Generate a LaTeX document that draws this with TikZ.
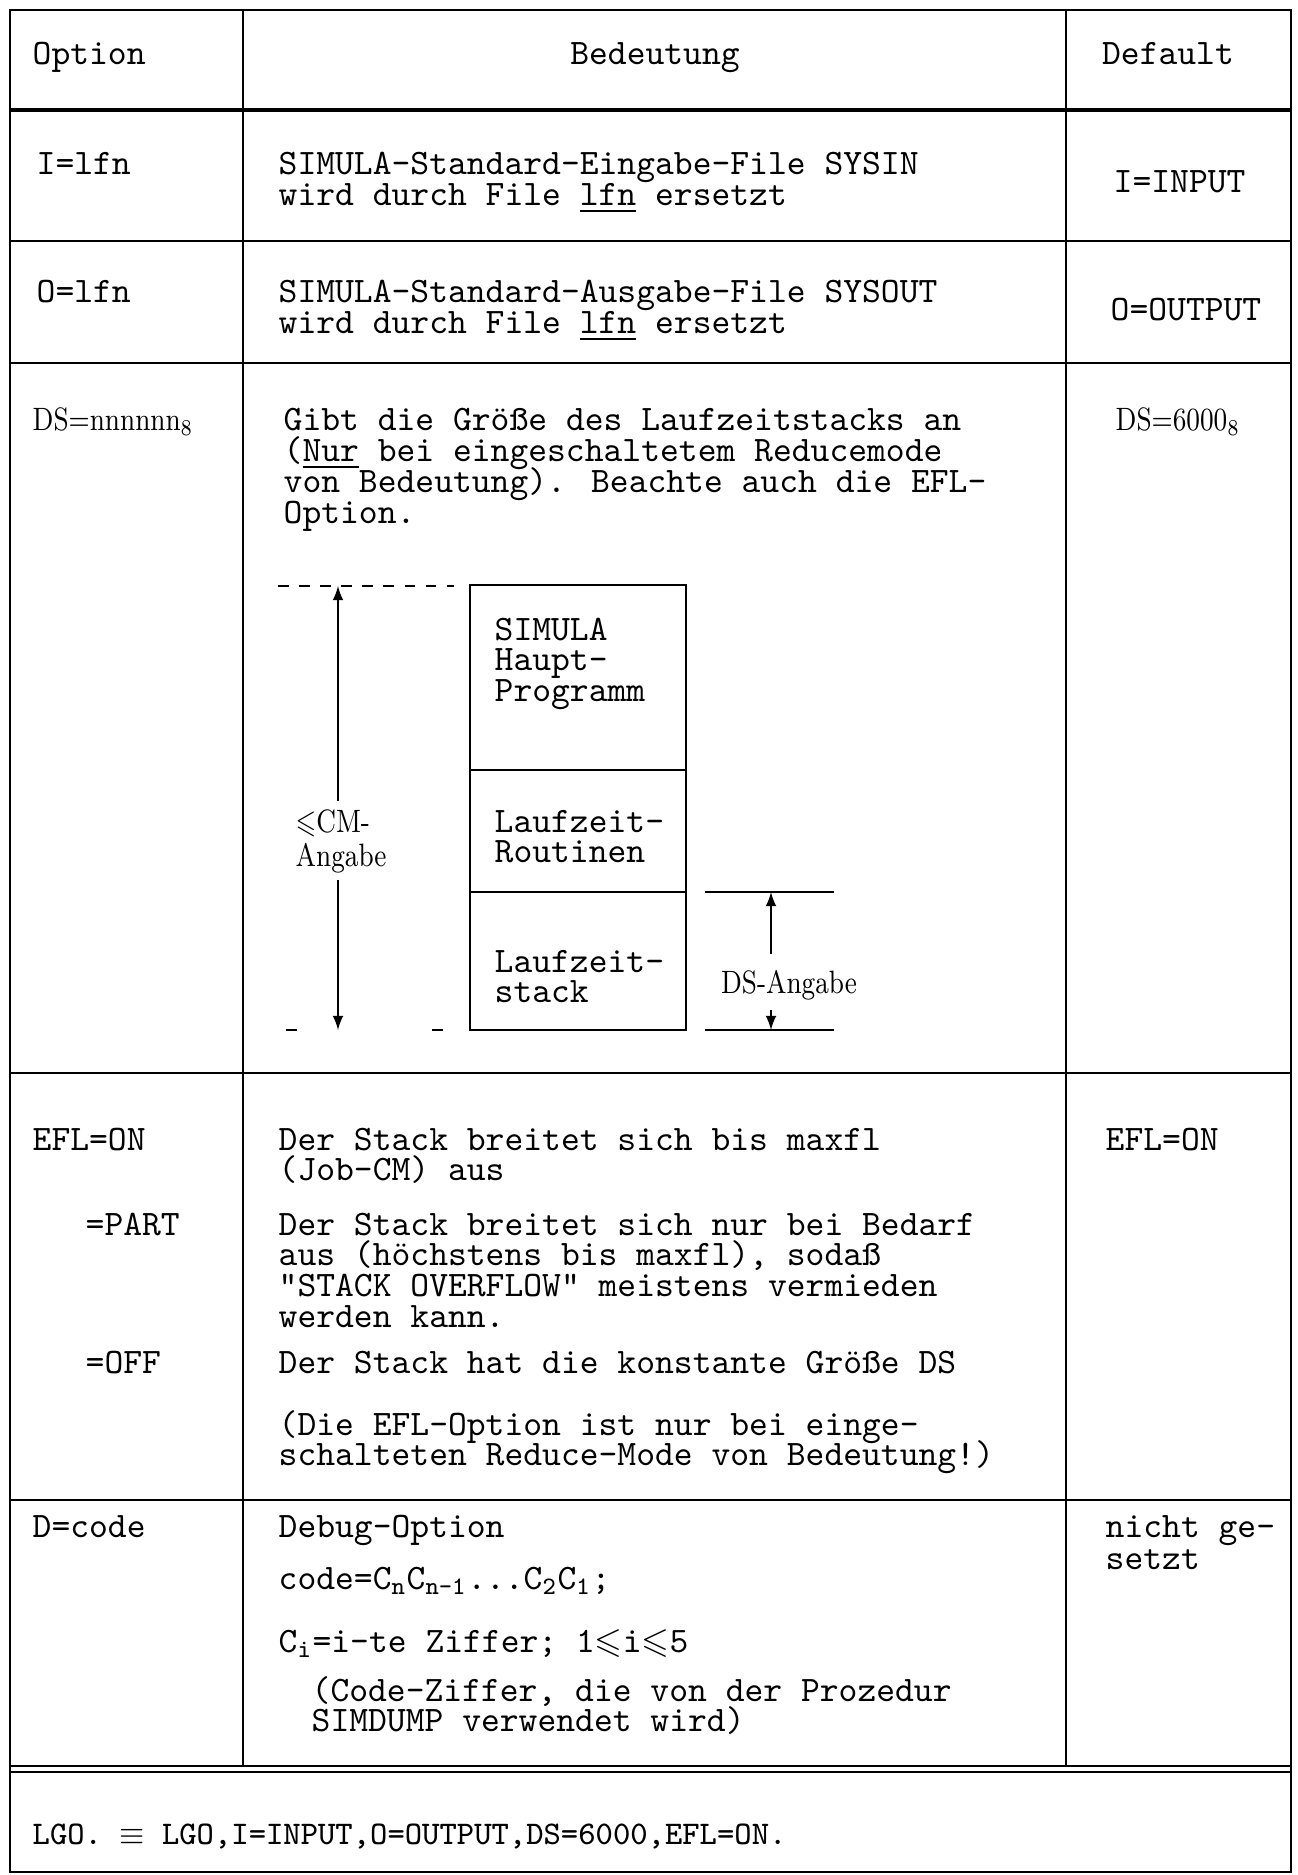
\documentclass[tikz,border=0pt]{standalone}
\usepackage{fontspec}
\usepackage{amssymb}
\newcommand{\cond}[1]{\scalebox{0.82}[1]{#1}}
% lines of one paragraph, base = baseline of the first line
\newcommand{\ml}[1]{\vtop{\hsize=110mm\parindent=0pt\lineskiplimit=-20pt\relax
  \let\\\newline\noindent#1}}
\begin{document}
\begin{tikzpicture}[x=0.1mm,y=-0.1mm,
    tt/.style={font=\ttfamily\fontsize{10.2}{8.8}\selectfont,
      anchor=base west,inner sep=0pt},
    ttwide/.style={tt,font=\ttfamily\fontsize{10.2}{9.3}\selectfont},
    ttsmall/.style={tt,font=\ttfamily\fontsize{9.4}{8.8}\selectfont},
    rmtxt/.style={font=\fontsize{9.2}{8.8}\selectfont,
      anchor=base west,inner sep=0pt},
    rule/.style={line width=0.6pt},
    guide/.style={line width=0.4pt,dashed}]
\useasboundingbox (0,0) rectangle (1297,1875);
% table frame
\draw[rule] (10,10) rectangle (1291,1872);
\draw[rule] (243,10) -- (243,1766);
\draw[rule] (1066,10) -- (1066,1766);
\draw[line width=1pt] (10,110) -- (1291,110);
\draw[rule] (10,241) -- (1291,241);
\draw[rule] (10,363) -- (1291,363);
\draw[rule] (10,1073) -- (1291,1073);
\draw[rule] (10,1500) -- (1291,1500);
\draw[rule] (10,1766) -- (1291,1766);
\draw[rule] (10,1772) -- (1291,1772);
% header
\node[tt] (hopt) at (32,65) {Option};
\node[tt,anchor=base] (hbed) at (655,65) {Bedeutung};
\node[tt,anchor=base] (hdef) at (1168,65) {Default};
% I=lfn
\node[tt] (iopt) at (36,175) {I=lfn};
\node[tt] (ibed) at (278,175) {\ml{SIMULA-Standard-Eingabe-File SYSIN\\wird durch File \underline{lfn} ersetzt}};
\node[tt] (idef) at (1113,193) {I=INPUT};
% O=lfn
\node[tt] (oopt) at (36,303) {O=lfn};
\node[tt] (obed) at (278,303) {\ml{SIMULA-Standard-Ausgabe-File SYSOUT\\wird durch File \underline{lfn} ersetzt}};
\node[tt] (odef) at (1110,321) {O=OUTPUT};
% DS
\node[rmtxt] (dsopt) at (32,431) {\cond{DS=nnnnnn\textsubscript{8}}};
\node[tt] (dsbed) at (283,431) {\ml{Gibt die Größe des Laufzeitstacks an\\(\underline{Nur} bei eingeschaltetem Reducemode\\von Bedeutung). Beachte auch die EFL-\\Option.}};
\node[rmtxt] (dsdef) at (1115,431) {\cond{DS=6000\textsubscript{8}}};
% storage picture
\draw[rule] (470,585) rectangle (686,1030);
\draw[rule] (470,770) -- (686,770);
\draw[rule] (470,892) -- (686,892);
\node[tt] (haupt) at (494,640) {\ml{SIMULA\\Haupt-\\Programm}};
\node[tt] (rout) at (494,832) {\ml{Laufzeit-\\Routinen}};
\node[tt] (stack) at (494,972) {\ml{Laufzeit-\\stack}};
\draw[guide] (278,586) -- (454,586);
\draw[guide] (286,1030) -- (305,1030);
\draw[guide] (432,1030) -- (443,1030);
\coordinate (cmtop) at (338,586);
\coordinate (cmbot) at (338,1030);
\node[rmtxt,inner ysep=2pt] (cmlbl) at (295,832) {\cond{$\leqslant$CM-}};
\node[rmtxt,inner ysep=2pt] (cmlbl2) at (295,866) {\cond{Angabe}};
\draw[-latex] (cmlbl.north -| cmtop) -- (cmtop);
\draw[-latex] (cmlbl2.south -| cmtop) -- (cmbot);
\draw[rule] (705,892) -- (834,892);
\draw[rule] (705,1030) -- (834,1030);
\coordinate (dstop) at (771,892);
\coordinate (dsbot) at (771,1030);
\node[rmtxt,anchor=base] (dslbl) at (789,993) {\cond{DS-Angabe}};
\draw[-latex,shorten <=1.5mm] (dslbl.north -| dstop) -- (dstop);
\draw[-latex,shorten <=1mm] (dslbl.south -| dsbot) -- (dsbot);
% EFL
\node[tt] (eflopt) at (32,1150) {EFL=ON};
\node[tt] (eflon) at (278,1150) {\ml{Der Stack breitet sich bis maxfl\\(Job-CM) aus}};
\node[tt] (eflpopt) at (85,1235) {=PART};
\node[tt] (eflpart) at (278,1235) {\ml{Der Stack breitet sich nur bei Bedarf\\aus (höchstens bis maxfl), sodaß\\"STACK OVERFLOW" meistens vermieden\\werden kann.}};
\node[tt] (efloopt) at (85,1373) {=OFF};
\node[tt] (efloff) at (278,1373) {Der Stack hat die konstante Größe DS};
\node[tt] (eflnote) at (278,1435) {\ml{(Die EFL-Option ist nur bei einge-\\schalteten Reduce-Mode von Bedeutung!)}};
\node[tt] (efldef) at (1105,1150) {EFL=ON};
% D=code
\node[tt] (dopt) at (32,1537) {D=code};
\node[tt] (dbed) at (278,1537) {Debug-Option};
\node[tt] (dcode) at (278,1589) {code=C\textsubscript{n}C\textsubscript{n-1}...C\textsubscript{2}C\textsubscript{1};};
\node[tt] (dci) at (278,1652) {C\textsubscript{i}=i-te Ziffer; 1$\leqslant$i$\leqslant$5};
\node[tt] (dnote) at (311,1701) {\ml{(Code-Ziffer, die von der Prozedur\\SIMDUMP verwendet wird)}};
\node[ttwide] (ddef) at (1105,1537) {\ml{nicht ge-\\setzt}};
% LGO
\node[ttsmall] (lgo) at (32,1844) {LGO. $\equiv$ LGO,I=INPUT,O=OUTPUT,DS=6000,EFL=ON.};
\end{tikzpicture}
\end{document}
